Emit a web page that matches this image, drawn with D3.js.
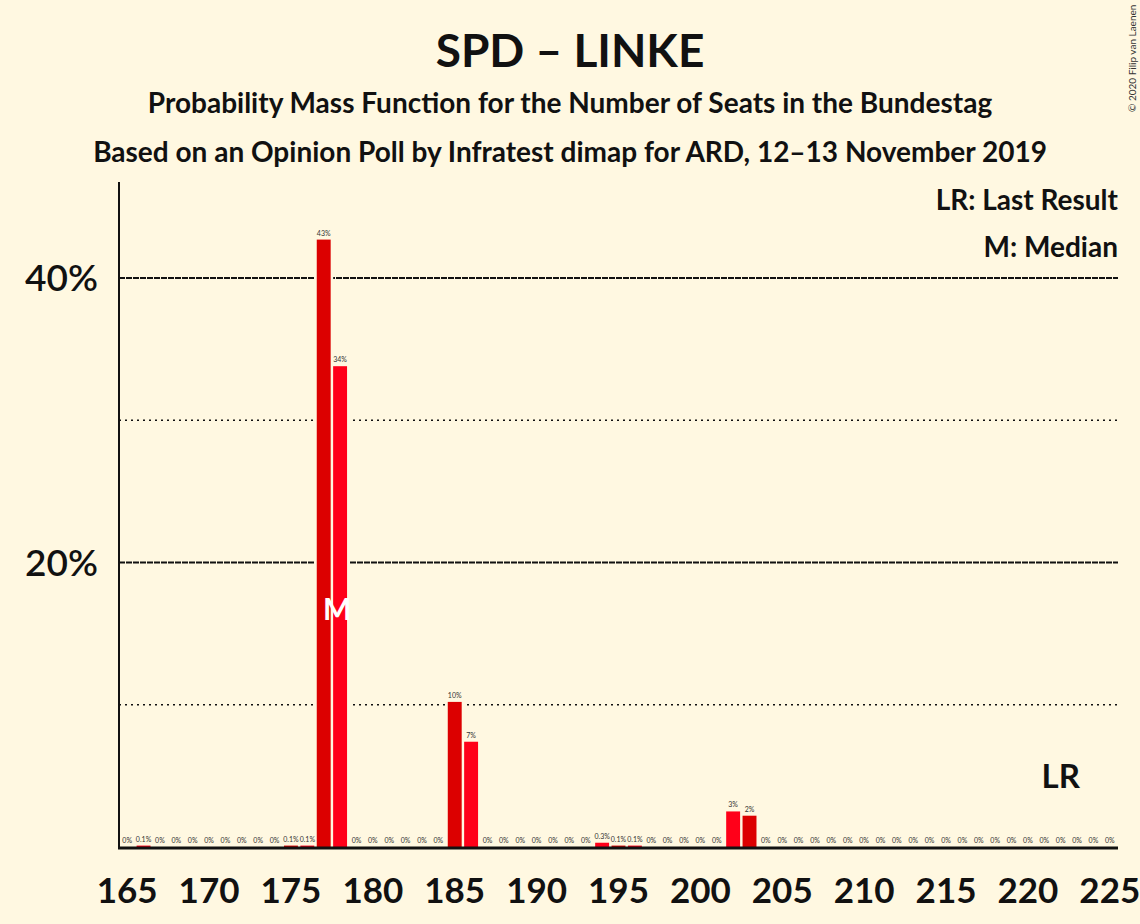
<!DOCTYPE html>
<html><head><meta charset="utf-8">
<script src="https://cdn.jsdelivr.net/npm/d3@7"></script>
<style>body{margin:0;background:#fff8e1;} svg{display:block;font-family:Lato,"Open Sans",sans-serif;}</style>
</head><body>
<script>
const seats = d3.range(165, 226);
const probs = [0,0.1,0,0,0,0,0,0,0,0,0.1,0.1,42.7,33.8,0,0,0,0,0,0,10.2,7.4,0,0,0,0,0,0,0,0.3,0.1,0.1,0,0,0,0,0,2.5,2.2,0,0,0,0,0,0,0,0,0,0,0,0,0,0,0,0,0,0,0,0,0,0];
const labels = ["0%","0.1%","0%","0%","0%","0%","0%","0%","0%","0%","0.1%","0.1%","43%","34%","0%","0%","0%","0%","0%","0%","10%","7%","0%","0%","0%","0%","0%","0%","0%","0.3%","0.1%","0.1%","0%","0%","0%","0%","0%","3%","2%","0%","0%","0%","0%","0%","0%","0%","0%","0%","0%","0%","0%","0%","0%","0%","0%","0%","0%","0%","0%","0%","0%"];
const xTicks = [165,170,175,180,185,190,195,200,205,210,215,220,225];
const yMajor = [20,40];
const yMinor = [10,30];
const median = 178, lastResult = 222;

const W=1140,H=924,bg="#fff8e1";
const svg=d3.select("body").append("svg").attr("width",W).attr("height",H);
svg.append("rect").attr("width",W).attr("height",H).attr("fill",bg);
const L=119,R=1118,T=182,B=847;
const x=d3.scaleBand().domain(seats).range([L,R]).paddingInner(0.15).paddingOuter(0.075);
const y=d3.scaleLinear().domain([0,40]).range([B,278]);

// gridlines
svg.selectAll(".gmaj").data(yMajor).join("line").attr("x1",L).attr("x2",R).attr("y1",d=>y(d)).attr("y2",d=>y(d))
  .attr("stroke","#111").attr("stroke-width",2).attr("stroke-dasharray","6,1");
svg.selectAll(".gmin").data(yMinor).join("line").attr("x1",L).attr("x2",R).attr("y1",d=>y(d)).attr("y2",d=>y(d))
  .attr("stroke","#111").attr("stroke-width",1.6).attr("stroke-dasharray","2,4");

const data=seats.map((s,i)=>({s,p:probs[i],l:labels[i]}));
// background halo behind bars
svg.selectAll(".halo").data(data.filter(d=>d.p>0)).join("rect")
  .attr("x",d=>x(d.s)-2.5).attr("width",x.bandwidth()+5)
  .attr("y",d=>y(d.p)-2.5).attr("height",d=>B-y(d.p)+2.5).attr("fill",bg);
svg.selectAll(".bar").data(data).join("rect")
  .attr("x",d=>x(d.s)).attr("width",x.bandwidth())
  .attr("y",d=>y(d.p)).attr("height",d=>B-y(d.p))
  .attr("fill",d=>d.s%2?"#dc0000":"#ff0019");
svg.selectAll(".bl").data(data).join("text")
  .attr("x",d=>x(d.s)+x.bandwidth()/2).attr("y",d=>y(d.p)-4)
  .attr("text-anchor","middle").attr("font-size",7).attr("fill","#333").text(d=>d.l);

// axes
svg.append("line").attr("x1",L).attr("x2",L).attr("y1",T).attr("y2",B).attr("stroke","#111").attr("stroke-width",2);
svg.append("line").attr("x1",L-1).attr("x2",R).attr("y1",B+1).attr("y2",B+1).attr("stroke","#111").attr("stroke-width",3);

svg.selectAll(".xt").data(xTicks).join("text")
  .attr("x",d=>x(d)+x.bandwidth()/2).attr("y",903).attr("text-anchor","middle")
  .attr("font-size",35).attr("font-weight","bold").attr("fill","#111").text(d=>d);
svg.selectAll(".yt").data(yMajor).join("text")
  .attr("x",98).attr("y",d=>y(d)+13).attr("text-anchor","end")
  .attr("font-size",37).attr("font-weight","600").attr("fill","#111").text(d=>d+"%");

// median marker
svg.append("text").attr("x",x(median)+x.bandwidth()/2-3).attr("y",620).attr("text-anchor","middle")
  .attr("font-size",30).attr("font-weight","bold").attr("fill","#fff").text("M");
// last result
svg.append("text").attr("x",x(lastResult)+x.bandwidth()/2).attr("y",788).attr("text-anchor","middle")
  .attr("font-size",33).attr("font-weight","bold").attr("fill","#111").text("LR");

// titles
svg.append("text").attr("x",570).attr("y",67).attr("text-anchor","middle").attr("font-size",46).attr("font-weight","bold").attr("fill","#111").text("SPD – LINKE");
svg.append("text").attr("x",570).attr("y",113).attr("text-anchor","middle").attr("font-size",28).attr("font-weight","bold").attr("fill","#111").text("Probability Mass Function for the Number of Seats in the Bundestag");
svg.append("text").attr("x",570).attr("y",162).attr("text-anchor","middle").attr("font-size",28).attr("font-weight","bold").attr("fill","#111").text("Based on an Opinion Poll by Infratest dimap for ARD, 12–13 November 2019");
svg.append("text").attr("x",1118).attr("y",210).attr("text-anchor","end").attr("font-size",28).attr("font-weight","bold").attr("fill","#111").text("LR: Last Result");
svg.append("text").attr("x",1118).attr("y",257).attr("text-anchor","end").attr("font-size",28).attr("font-weight","bold").attr("fill","#111").text("M: Median");
svg.append("text").attr("transform","translate(1136,112) rotate(-90)").attr("font-size",10).attr("fill","#333").text("© 2020 Filip van Laenen");
</script>
</body></html>
